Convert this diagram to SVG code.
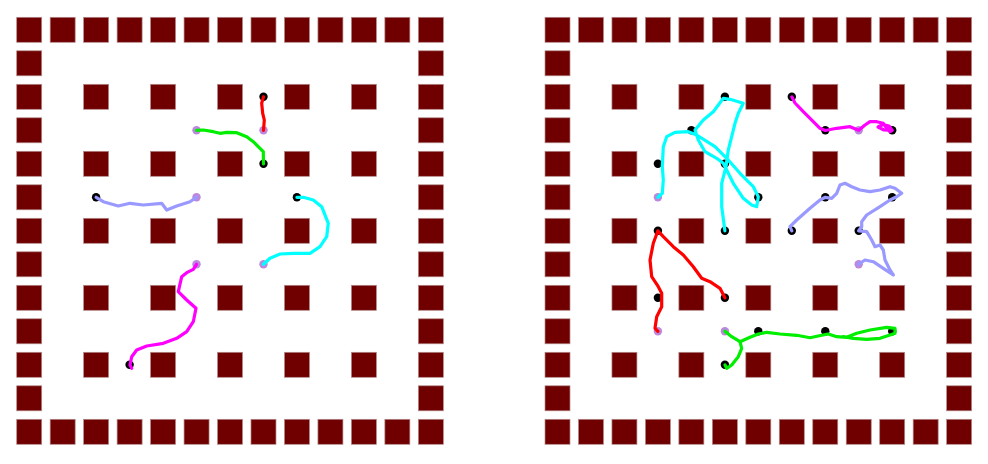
<svg xmlns="http://www.w3.org/2000/svg" xmlns:xlink="http://www.w3.org/1999/xlink" width="988" height="464" viewBox="0 0 988 464">
<style>
.sq{fill:#700000;stroke:#b48a8a;stroke-width:0.7}
.bd{fill:#000}
.pd{fill:#bb88dd}
.tr{fill:none;stroke-width:3.2;stroke-linejoin:round;stroke-linecap:round}
</style>
<defs>
<g id="board">
<rect class="sq" x="0" y="0" width="25" height="25"/><rect class="sq" x="33.47" y="0" width="25" height="25"/><rect class="sq" x="66.94" y="0" width="25" height="25"/><rect class="sq" x="100.41" y="0" width="25" height="25"/><rect class="sq" x="133.88" y="0" width="25" height="25"/><rect class="sq" x="167.35" y="0" width="25" height="25"/><rect class="sq" x="200.82" y="0" width="25" height="25"/><rect class="sq" x="234.29" y="0" width="25" height="25"/><rect class="sq" x="267.76" y="0" width="25" height="25"/><rect class="sq" x="301.23" y="0" width="25" height="25"/><rect class="sq" x="334.7" y="0" width="25" height="25"/><rect class="sq" x="368.17" y="0" width="25" height="25"/><rect class="sq" x="401.64" y="0" width="25" height="25"/>
<rect class="sq" x="0" y="402" width="25" height="25"/><rect class="sq" x="33.47" y="402" width="25" height="25"/><rect class="sq" x="66.94" y="402" width="25" height="25"/><rect class="sq" x="100.41" y="402" width="25" height="25"/><rect class="sq" x="133.88" y="402" width="25" height="25"/><rect class="sq" x="167.35" y="402" width="25" height="25"/><rect class="sq" x="200.82" y="402" width="25" height="25"/><rect class="sq" x="234.29" y="402" width="25" height="25"/><rect class="sq" x="267.76" y="402" width="25" height="25"/><rect class="sq" x="301.23" y="402" width="25" height="25"/><rect class="sq" x="334.7" y="402" width="25" height="25"/><rect class="sq" x="368.17" y="402" width="25" height="25"/><rect class="sq" x="401.64" y="402" width="25" height="25"/>
<rect class="sq" x="0" y="33.5" width="25" height="25"/><rect class="sq" x="0" y="67" width="25" height="25"/><rect class="sq" x="0" y="100.5" width="25" height="25"/><rect class="sq" x="0" y="134" width="25" height="25"/><rect class="sq" x="0" y="167.5" width="25" height="25"/><rect class="sq" x="0" y="201" width="25" height="25"/><rect class="sq" x="0" y="234.5" width="25" height="25"/><rect class="sq" x="0" y="268" width="25" height="25"/><rect class="sq" x="0" y="301.5" width="25" height="25"/><rect class="sq" x="0" y="335" width="25" height="25"/><rect class="sq" x="0" y="368.5" width="25" height="25"/>
<rect class="sq" x="401.64" y="33.5" width="25" height="25"/><rect class="sq" x="401.64" y="67" width="25" height="25"/><rect class="sq" x="401.64" y="100.5" width="25" height="25"/><rect class="sq" x="401.64" y="134" width="25" height="25"/><rect class="sq" x="401.64" y="167.5" width="25" height="25"/><rect class="sq" x="401.64" y="201" width="25" height="25"/><rect class="sq" x="401.64" y="234.5" width="25" height="25"/><rect class="sq" x="401.64" y="268" width="25" height="25"/><rect class="sq" x="401.64" y="301.5" width="25" height="25"/><rect class="sq" x="401.64" y="335" width="25" height="25"/><rect class="sq" x="401.64" y="368.5" width="25" height="25"/>
<rect class="sq" x="66.94" y="67" width="25" height="25"/><rect class="sq" x="133.88" y="67" width="25" height="25"/><rect class="sq" x="200.82" y="67" width="25" height="25"/><rect class="sq" x="267.76" y="67" width="25" height="25"/><rect class="sq" x="334.7" y="67" width="25" height="25"/>
<rect class="sq" x="66.94" y="134" width="25" height="25"/><rect class="sq" x="133.88" y="134" width="25" height="25"/><rect class="sq" x="200.82" y="134" width="25" height="25"/><rect class="sq" x="267.76" y="134" width="25" height="25"/><rect class="sq" x="334.7" y="134" width="25" height="25"/>
<rect class="sq" x="66.94" y="201" width="25" height="25"/><rect class="sq" x="133.88" y="201" width="25" height="25"/><rect class="sq" x="200.82" y="201" width="25" height="25"/><rect class="sq" x="267.76" y="201" width="25" height="25"/><rect class="sq" x="334.7" y="201" width="25" height="25"/>
<rect class="sq" x="66.94" y="268" width="25" height="25"/><rect class="sq" x="133.88" y="268" width="25" height="25"/><rect class="sq" x="200.82" y="268" width="25" height="25"/><rect class="sq" x="267.76" y="268" width="25" height="25"/><rect class="sq" x="334.7" y="268" width="25" height="25"/>
<rect class="sq" x="66.94" y="335" width="25" height="25"/><rect class="sq" x="133.88" y="335" width="25" height="25"/><rect class="sq" x="200.82" y="335" width="25" height="25"/><rect class="sq" x="267.76" y="335" width="25" height="25"/><rect class="sq" x="334.7" y="335" width="25" height="25"/>
</g>
</defs>
<rect width="988" height="464" fill="#fff"/>
<g id="board-left"><use href="#board" xlink:href="#board" transform="translate(16.7,17.3)"/></g>
<g id="board-right"><use href="#board" xlink:href="#board" transform="translate(545,17.3)"/></g>

<g id="dots-left">
<circle class="pd" cx="196.5" cy="130.3" r="4.2"/><circle class="pd" cx="263.5" cy="130.3" r="4.2"/><circle class="pd" cx="196.5" cy="197.3" r="4.2"/><circle class="pd" cx="263.5" cy="264.3" r="4.2"/><circle class="pd" cx="196.5" cy="264.3" r="4.2"/>
<circle class="bd" cx="263.5" cy="96.8" r="4.2"/><circle class="bd" cx="263.5" cy="163.8" r="4.2"/><circle class="bd" cx="96.1" cy="197.3" r="4.2"/><circle class="bd" cx="296.9" cy="197.3" r="4.2"/><circle class="bd" cx="129.6" cy="364.8" r="4.2"/>
</g>
<g id="dots-right">
<circle class="pd" cx="657.9" cy="197.3" r="4.2"/><circle class="pd" cx="858.7" cy="130.3" r="4.2"/><circle class="pd" cx="858.7" cy="264.3" r="4.2"/><circle class="pd" cx="657.9" cy="331.3" r="4.2"/><circle class="pd" cx="724.9" cy="331.3" r="4.2"/>
<circle class="bd" cx="724.9" cy="96.8" r="4.2"/><circle class="bd" cx="691.4" cy="130.3" r="4.2"/><circle class="bd" cx="657.9" cy="163.8" r="4.2"/><circle class="bd" cx="724.9" cy="163.8" r="4.2"/><circle class="bd" cx="758.3" cy="197.3" r="4.2"/><circle class="bd" cx="724.9" cy="230.8" r="4.2"/><circle class="bd" cx="657.9" cy="230.8" r="4.2"/><circle class="bd" cx="657.9" cy="297.8" r="4.2"/><circle class="bd" cx="724.9" cy="297.8" r="4.2"/><circle class="bd" cx="791.8" cy="96.8" r="4.2"/><circle class="bd" cx="825.3" cy="130.3" r="4.2"/><circle class="bd" cx="892.2" cy="130.3" r="4.2"/><circle class="bd" cx="825.3" cy="197.3" r="4.2"/><circle class="bd" cx="892.2" cy="197.3" r="4.2"/><circle class="bd" cx="791.8" cy="230.8" r="4.2"/><circle class="bd" cx="858.7" cy="230.8" r="4.2"/><circle class="bd" cx="758.3" cy="331.3" r="4.2"/><circle class="bd" cx="825.3" cy="331.3" r="4.2"/><circle class="bd" cx="892.2" cy="331.3" r="4.2"/><circle class="bd" cx="724.9" cy="364.8" r="4.2"/>
</g>

<g id="connectors">
<polyline class="tr" stroke="#ff0000" points="263.5,96.8 261.7,103.3 262.7,113.3 264.3,120 263.5,130.3"/>
<polyline class="tr" stroke="#00ee00" points="196.5,130.3 203.3,130 213.3,131.7 220,133.3 226.7,132.3 236.7,132.7 246.7,136.7 253.3,141.7 260,148.3 263.3,151.7 263.5,163.8"/>
<polyline class="tr" stroke="#9999ff" points="96.1,197.3 103.3,201.7 118.3,206 130,203.3 143.3,205 161.7,203.3 166.7,210 176.7,206 190,201.7 196.5,197.3"/>
<polyline class="tr" stroke="#00ffff" points="296.9,197.3 303.3,197.3 313.3,200 321.7,206.7 328.3,223.3 326.7,236.7 320,246.7 310,253.3 293.3,253.3 280,254 270,258.3 263.5,264.3"/>
<polyline class="tr" stroke="#ff00ff" points="196.5,264.3 193.3,269.3 186.7,272.7 181.7,276.7 178.3,291.7 186.7,300 196,308.3 193.3,321.7 186.7,331.7 176.7,338.3 163.3,343.3 146.7,346 136.7,350 131.7,356.7 130,365 131.7,368.3"/>

<polyline class="tr" stroke="#00ffff" points="657.9,197.3 662.3,193.3 663.3,180 662.3,166.7 663.3,146.7 666.7,136.7 675,132.3 688.3,131.7 696.7,135 715,146.7 726.7,158.3 740,173.3 753.3,186.7 758.3,196.7 756.7,206.7 751.7,205 743.3,198.3 733.3,183.3 726.7,170 723.3,163.3 716.7,158.3 705,151.7 698.3,140 695,130 703.3,120 713.3,111.7 723.3,98.3 730,99.3 743.3,103.3 738.3,113.3 735,123.3 731.7,136.7 728.3,150 726,166.7 721.7,183.3 721.7,206.7 724.9,230.8"/>
<polyline class="tr" stroke="#ff0000" points="657.9,331.3 655,328.3 656.7,316.7 661.7,306.7 661.7,293.3 658.3,286.7 651.7,276.7 650,260 653.3,243.3 657.9,230.8 663.3,236.7 673.3,246.7 683.3,255 693.3,266.7 701.7,278.3 710,281.7 720,288.3 724.9,297.8"/>
<polyline class="tr" stroke="#ff00ff" points="791.8,96.8 795,103 803.3,111.7 813.3,121.7 820,128.3 825.3,130.5 836.7,128.3 850,126.7 858.7,130.3 865,125 870,121.7 876.7,121.7 883.3,123.3 886.7,128.3 890,131.7 892.2,130.3 889,126 883,124.5 878,127 884,130 892.2,130.3"/>
<polyline class="tr" stroke="#9999ff" points="791.8,230.8 790,226.7 796.7,220 810,208.3 820,200 825.3,197.3 831.7,198.3 836.7,193.3 840,185 845,183.3 851.7,186.7 860,190 870,191.7 880,190 890,186.7 895,188.3 901.7,193.3 896.7,196.7 890,200 880,206.7 866.7,215 861.7,221.7 861.7,226.7 858.7,230.8 866.7,231.7 871.7,240 875,246.7 880,245 883.3,250 885,260 890,270 893.3,275 883.3,268.3 873.3,261.7 865,260 858.7,264.3"/>
<polyline class="tr" stroke="#00ee00" points="724.9,331.3 731.7,336.7 740,341.7 741.7,348.3 738.3,356.7 731.7,365 726.7,368.3 724.9,364.8"/>
<polyline class="tr" stroke="#00ee00" points="740,341.7 750,337.3 758.3,334 766.7,332.3 780,334 796.7,335.3 810,337.7 821.7,335.3 828.3,334 836.7,336.7 846.7,337.3 856.7,333.3 870,330 886.7,327.3 895,328.3 895,333.3 890,335 880,338.3 866.7,339.3 853.3,338.3 843.3,336.7"/>
</g>
</svg>
